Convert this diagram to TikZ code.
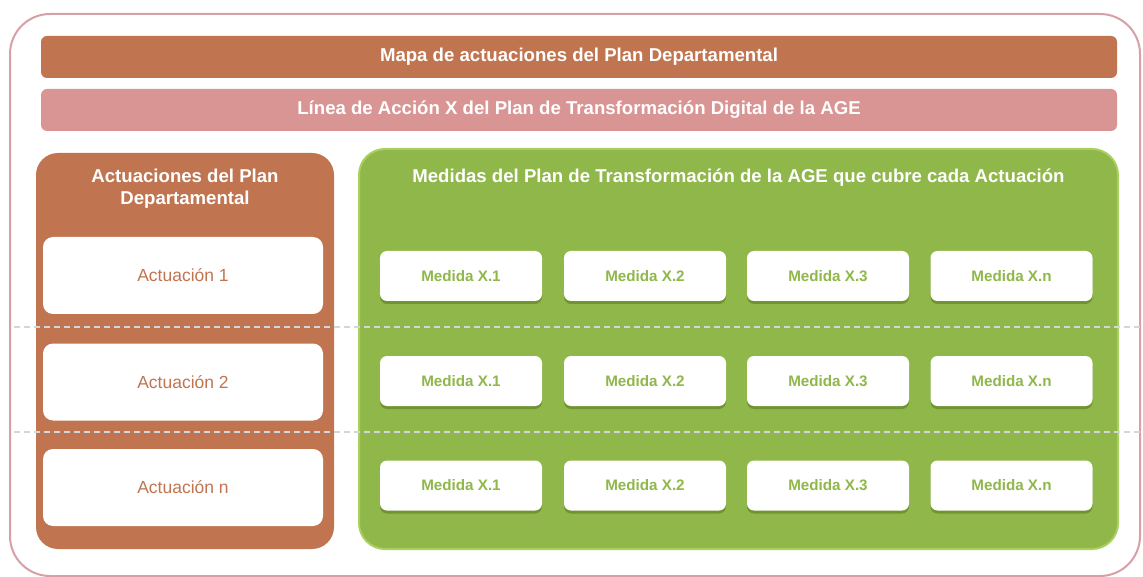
\documentclass[tikz,border=0pt]{standalone}
\usepackage{fontspec}
\setmainfont{Liberation Sans}
\usetikzlibrary{shadows}
\definecolor{brownplan}{RGB}{192,117,80}
\definecolor{pinkline}{RGB}{217,149,148}
\definecolor{greenage}{RGB}{143,183,74}
\definecolor{greenedge}{RGB}{170,207,95}
\definecolor{greenshadow}{RGB}{112,148,48}
\definecolor{framepink}{RGB}{215,160,165}
\definecolor{dashgray}{RGB}{212,214,222}
\begin{document}
\begin{tikzpicture}[x=1pt, y=-1pt,
        bar/.style={rounded corners=6pt, minimum width=1076pt, minimum height=42pt, text=white, font=\bfseries\fontsize{18.6}{20}\selectfont},
        paneltitle/.style={text=white, align=center, font=\bfseries\fontsize{18.6}{22}\selectfont},
        actbox/.style={fill=white, rounded corners=10pt, minimum width=280pt, minimum height=77pt, text=brownplan, font=\fontsize{17.5}{20}\selectfont},
        medbox/.style={fill=white, rounded corners=7pt, minimum width=162pt, minimum height=50pt, text=greenage, font=\bfseries\fontsize{15.2}{17}\selectfont, drop shadow={shadow xshift=0pt, shadow yshift=-3pt, fill=greenshadow, opacity=1}},
        rowline/.style={dashgray, line width=1.2pt, dash pattern=on 6pt off 4pt}]
        \useasboundingbox (0,0) rectangle (1143,577);
        \draw[framepink, line width=2pt, rounded corners=40pt] (10,14) rectangle (1140,576);
        % header bars
        \node[bar, fill=brownplan] (mapa) at (579,57) {Mapa de actuaciones del Plan Departamental};
        \node[bar, fill=pinkline] (linea) at (579,110) {Línea de Acción X del Plan de Transformación Digital de la AGE};
        % panels
        \node[fill=brownplan, rounded corners=22pt, minimum width=298pt, minimum height=396pt] (actpanel) at (185,351) {};
        \node[fill=greenage, draw=greenedge, line width=2pt, rounded corners=26pt, minimum width=759pt, minimum height=400pt] (medpanel) at (738.5,349) {};
        \node[paneltitle] (acttitle) at (185,189) {Actuaciones del Plan\\Departamental};
        \node[paneltitle] (medtitle) at (738.5,178) {Medidas del Plan de Transformación de la AGE que cubre cada Actuación};
        % row separators
        \coordinate (sepa1) at (14,327);
        \coordinate (sepb1) at (1143,327);
        \coordinate (sepa2) at (14,432);
        \coordinate (sepb2) at (1143,432);
        \draw[rowline] (sepa1) -- (sepb1);
        \draw[rowline] (sepa2) -- (sepb2);
        % boxes
        \foreach \r/\y/\lab in {1/275.5/1, 2/382/2, 3/487.5/n}
            \node[actbox] (act\r) at (183,\y) {Actuación \lab};
        \foreach \r/\y in {1/276, 2/381, 3/485.5}
            \foreach \c/\x/\lab in {1/461/1, 2/645/2, 3/828/3, 4/1011.5/n}
                \node[medbox] (med\r\c) at (\x,\y) {Medida X.\lab};
    \end{tikzpicture}
\end{document}
